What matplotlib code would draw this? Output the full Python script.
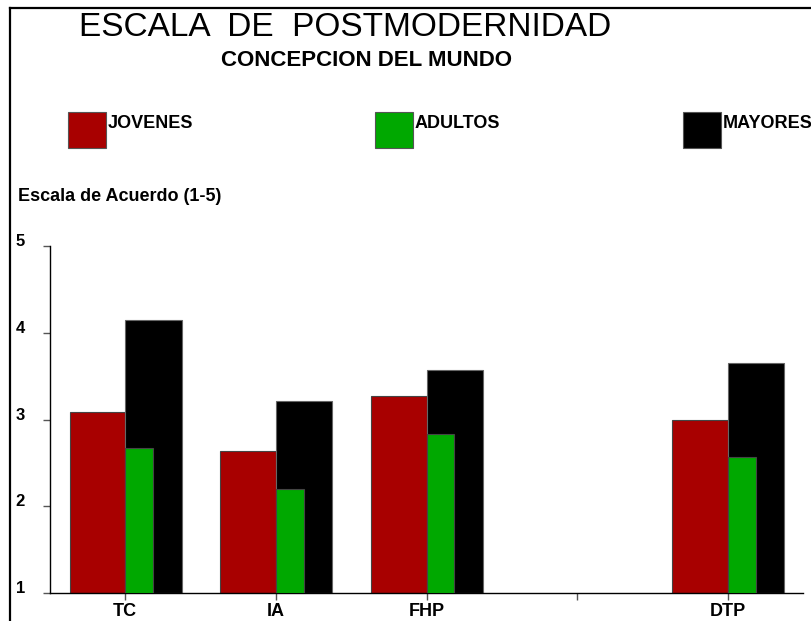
import matplotlib.pyplot as plt
import numpy as np
from matplotlib.lines import Line2D

plt.rcParams['font.family'] = ['Liberation Sans', 'DejaVu Sans']

categorias = ["TC", "IA", "FHP", "", "DTP"]
jovenes = [3.09, 2.64, 3.27, np.nan, 2.99]
adultos = [2.67, 2.20, 2.83, np.nan, 2.57]
mayores = [4.15, 3.21, 3.57, np.nan, 3.65]

c_jov = "#a80000"
c_adu = "#00a800"
c_may = "#000000"

fig = plt.figure(figsize=(8.12, 6.21), dpi=100)
ax = fig.add_axes([50 / 812, 28 / 621, 753 / 812, 347 / 621])

x = np.arange(len(categorias))
base = 1
ax.bar(x, np.array(jovenes) - base, width=-0.37, align="edge", bottom=base,
       color=c_jov, edgecolor="#444444", linewidth=0.8, zorder=2)
ax.bar(x, np.array(mayores) - base, width=0.375, align="edge", bottom=base,
       color=c_may, edgecolor="#666666", linewidth=0.8, zorder=2)
ax.bar(x, np.array(adultos) - base, width=0.185, align="edge", bottom=base,
       color=c_adu, edgecolor="#444444", linewidth=0.8, zorder=3)

ax.set_xlim(-0.5, 4.5)
ax.set_ylim(1, 5)
ax.set_yticks([1, 2, 3, 4, 5])
ax.set_xticks(x)
ax.set_xticklabels(categorias, fontsize=13, fontweight="bold")
ax.tick_params(axis="y", direction="out", length=5, width=1, color="#555555",
               pad=13, labelsize=12)
ax.tick_params(axis="x", direction="out", length=5, width=1, color="#555555",
               pad=2)
for lab in ax.get_yticklabels():
    lab.set_fontweight("bold")
    lab.set_verticalalignment("baseline")
for s in ["top", "right"]:
    ax.spines[s].set_visible(False)
ax.spines["left"].set_linewidth(1)
ax.spines["bottom"].set_linewidth(1)

# titles
fig.text(345 / 812, 1 - 28 / 621, "ESCALA  DE  POSTMODERNIDAD", fontsize=24,
         ha="center", va="center")
fig.text(367 / 812, 1 - 60 / 621, "CONCEPCION DEL MUNDO", fontsize=16,
         fontweight="bold", ha="center", va="center")
fig.text(18 / 812, 1 - 196 / 621, "Escala de Acuerdo (1-5)", fontsize=13,
         fontweight="bold", ha="left", va="center")

# legend
leyenda = [("JOVENES", c_jov, 68), ("ADULTOS", c_adu, 375), ("MAYORES", c_may, 683)]
for nombre, color, px in leyenda:
    fig.patches.append(plt.Rectangle((px / 812, 1 - 148 / 621), 38 / 812, 36 / 621,
                                     transform=fig.transFigure, facecolor=color,
                                     edgecolor="#555555", linewidth=0.8))
    fig.text((px + 40) / 812, 1 - 123 / 621, nombre, fontsize=13,
             fontweight="bold", ha="left", va="center")

# frame
fig.lines.append(Line2D([10 / 812, 10 / 812], [0, 1 - 8 / 621],
                        transform=fig.transFigure, color="black", linewidth=1.6))
fig.lines.append(Line2D([10 / 812, 1], [1 - 8 / 621, 1 - 8 / 621],
                        transform=fig.transFigure, color="black", linewidth=1.6))

fig.savefig("out.png", dpi=100)
